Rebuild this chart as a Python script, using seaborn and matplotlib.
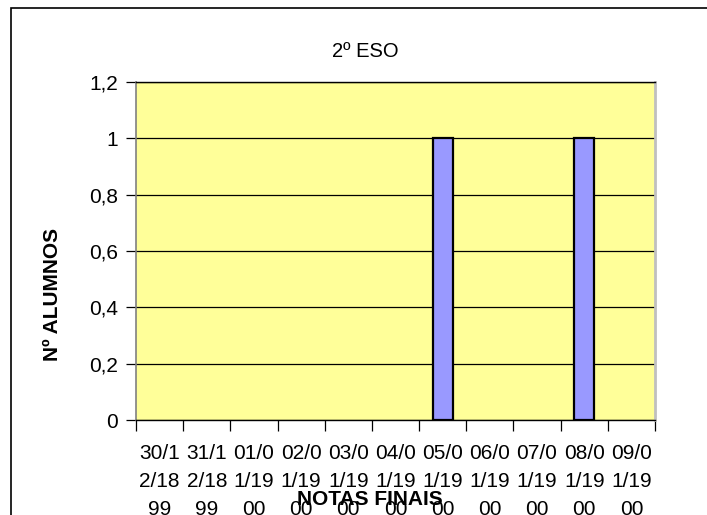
import matplotlib
matplotlib.use("Agg")
import matplotlib.pyplot as plt
import matplotlib.patches as mpatches
import seaborn as sns
import pandas as pd
import numpy as np

categories = ["30/12/1899", "31/12/1899", "01/01/1900", "02/01/1900", "03/01/1900",
              "04/01/1900", "05/01/1900", "06/01/1900", "07/01/1900", "08/01/1900",
              "09/01/1900"]
values = [0, 0, 0, 0, 0, 0, 1, 0, 0, 1, 0]
y_ticks = [0, 0.2, 0.4, 0.6, 0.8, 1.0, 1.2]
y_tick_labels = ["0", "0,2", "0,4", "0,6", "0,8", "1", "1,2"]
title = "2º ESO"
x_title = "NOTAS FINAIS"
y_title = "Nº ALUMNOS"

plt.rcParams['font.family'] = ['Liberation Sans', 'DejaVu Sans']

def wrap(s, n=4):
    return "\n".join(s[i:i + n] for i in range(0, len(s), n))

df = pd.DataFrame({"cat": categories, "val": values})

W, H = 707, 515
fig = plt.figure(figsize=(W / 100, H / 100), dpi=100)
ax = fig.add_axes([136 / W, 1 - 420 / H, (655 - 136) / W, (420 - 82) / H])
ax.set_facecolor("#FFFF99")

sns.barplot(data=df, x="cat", y="val", order=categories, color="#9999FF",
            saturation=1, width=0.42, edgecolor="black", linewidth=1.6, ax=ax,
            zorder=3)
for p in ax.patches:
    if p.get_height() == 0:
        p.set_linewidth(0)

ax.set_ylim(0, 1.2)
ax.set_xlim(-0.5, len(categories) - 0.5)
ax.set_yticks(y_ticks)
ax.set_yticklabels(y_tick_labels, fontsize=15)
ax.yaxis.grid(True, color="black", linewidth=0.9, zorder=1)
ax.set_axisbelow(True)
ax.tick_params(axis="y", length=7.2, width=0.9, pad=6.0, direction="out")

ax.set_xticks(np.arange(len(categories)))
ax.set_xticklabels([wrap(c) for c in categories], fontsize=15, linespacing=1.62)
ax.tick_params(axis="x", which="major", length=0, pad=17)
ax.set_xticks(np.arange(len(categories) + 1) - 0.5, minor=True)
ax.tick_params(axis="x", which="minor", length=8, width=0.9, direction="out", color="black")

ax.set_xlabel("")
ax.set_ylabel("")

for side in ["top", "bottom"]:
    ax.spines[side].set_color("black")
    ax.spines[side].set_linewidth(1.0)
ax.spines["left"].set_color("#808080")
ax.spines["left"].set_linewidth(1.2)
ax.spines["right"].set_color("#C0C0C0")
ax.spines["right"].set_linewidth(2.0)

fig.text(365 / W, 1 - 57 / H, title, ha="center", va="baseline", fontsize=14.5)
fig.text(370 / W, 1 - 505 / H, x_title, ha="center", va="baseline",
         fontsize=15, fontweight="bold", zorder=5)
fig.text(53 / W, 1 - 294 / H, y_title, ha="center", va="center", rotation=90,
         fontsize=15, fontweight="bold")

border = mpatches.Rectangle((11 / W, -0.5), 2, 1 - 8 / H + 0.5,
                            transform=fig.transFigure, fill=False,
                            edgecolor="black", linewidth=1.2)
fig.patches.append(border)

fig.savefig("out.png", dpi=100, facecolor="white")
